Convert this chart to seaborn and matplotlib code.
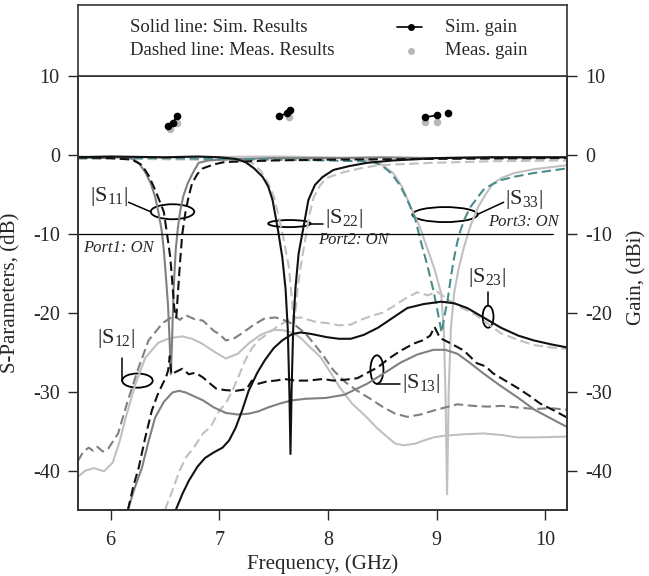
import numpy as np
import pandas as pd
import matplotlib
matplotlib.use('Agg')
import matplotlib.pyplot as plt
import seaborn as sns
from matplotlib.patches import Ellipse

sns.set_style('ticks')
plt.rcParams['font.family'] = ['Liberation Serif', 'DejaVu Serif']
plt.rcParams['mathtext.fontset'] = 'custom'
plt.rcParams['mathtext.rm'] = 'Liberation Serif'
plt.rcParams['mathtext.it'] = 'Liberation Serif:italic'
plt.rcParams['axes.unicode_minus'] = False

# ---- reflection coefficients (dB) ----
s11_sim_f = [5.7, 5.9, 6.1, 6.2, 6.26, 6.32, 6.37, 6.41, 6.44, 6.47, 6.49, 6.51, 6.53, 6.545, 6.555,
             6.565, 6.58, 6.6, 6.62, 6.64, 6.67, 6.71, 6.76, 6.81, 6.9, 7.0, 7.5, 8.0, 8.5, 9.0, 9.5, 10.2]
s11_sim_v = [-0.3, -0.4, -0.3, -0.5, -1.0, -2.2, -3.6, -5.3, -7.2, -9.5, -12, -15.5, -19.3, -24, -27.8,
             -24, -17, -12, -9.2, -7.2, -5.2, -3.6, -2.2, -1.0, -0.7, -0.6, -0.4, -0.4, -0.3, -0.4, -0.3, -0.3]

s11_meas_f = [5.7, 6.0, 6.2, 6.29, 6.35, 6.41, 6.45, 6.49, 6.52, 6.55, 6.57, 6.59, 6.605, 6.62, 6.64,
              6.66, 6.69, 6.72, 6.75, 6.8, 6.85, 6.95, 7.05, 7.5, 8.0, 9.0, 10.2]
s11_meas_v = [-0.3, -0.4, -0.6, -1.3, -2.6, -4.4, -5.8, -7.2, -10, -13, -16.5, -20, -20.6, -17.5, -13.5,
              -10, -7.2, -5.2, -3.6, -2.4, -1.7, -1.2, -0.9, -0.7, -0.6, -0.5, -0.4]

s22_sim_f = [5.7, 6.0, 6.5, 6.8, 7.0, 7.15, 7.24, 7.32, 7.4, 7.45, 7.49, 7.54, 7.58, 7.61, 7.63, 7.645,
             7.655, 7.665, 7.68, 7.7, 7.73, 7.77, 7.82, 7.88, 7.95, 8.05, 8.2, 8.36, 8.6, 9.0, 9.5, 10.2]
s22_sim_v = [-0.3, -0.2, -0.3, -0.2, -0.3, -0.5, -0.9, -1.7, -2.8, -4.0, -5.7, -9.5, -13, -17, -22, -30,
             -37.9, -30, -22, -17, -12.5, -9.5, -5.7, -3.8, -2.8, -1.9, -1.4, -1.0, -0.7, -0.4, -0.3, -0.3]

s22_meas_f = [5.7, 6.2, 6.8, 7.1, 7.3, 7.38, 7.45, 7.5, 7.54, 7.59, 7.64, 7.67, 7.685, 7.70, 7.72, 7.75,
              7.79, 7.83, 7.87, 7.93, 7.99, 8.14, 8.3, 8.46, 8.97, 9.5, 10.2]
s22_meas_v = [-0.5, -0.5, -0.6, -0.7, -1.0, -2.0, -3.6, -5.2, -7.4, -10.5, -14.2, -18.5, -21.8, -20, -17, -14,
              -10.8, -7.5, -5.3, -3.8, -2.9, -2.2, -1.7, -1.3, -1.0, -0.8, -0.7]

s33_sim_f = [5.7, 6.5, 7.5, 8.0, 8.3, 8.46, 8.6, 8.68, 8.76, 8.84, 8.91, 8.98, 9.04, 9.065, 9.08, 9.095,
             9.11, 9.13, 9.16, 9.2, 9.25, 9.31, 9.38, 9.45, 9.52, 9.6, 9.71, 9.9, 10.2]
s33_sim_v = [-0.2, -0.3, -0.2, -0.3, -0.5, -0.9, -2.3, -4.0, -6.6, -9.0, -11.7, -14.5, -17.5, -22, -30, -43,
             -30, -22, -17.5, -14.5, -11.7, -9, -6.6, -5.0, -3.6, -2.9, -2.3, -1.8, -1.3]

s33_meas_f = [5.7, 6.5, 7.0, 7.5, 8.0, 8.3, 8.42, 8.5, 8.58, 8.66, 8.73, 8.8, 8.85, 8.91, 8.97, 9.01, 9.045,
              9.07, 9.1, 9.13, 9.16, 9.19, 9.22, 9.26, 9.31, 9.37, 9.43, 9.5, 9.59, 9.7, 9.89, 10.2]
s33_meas_v = [-0.4, -0.4, -0.5, -0.6, -0.7, -0.8, -0.9, -1.4, -2.3, -3.8, -5.7, -8.0, -10.8, -13.8, -17.2, -20, -22.5,
              -20.5, -18.4, -15.5, -13, -11, -9.5, -8.0, -6.6, -5.5, -4.4, -3.8, -3.2, -2.8, -2.3, -1.7]

# ---- coupling (dB) ----
s12_sim_f = [5.68, 5.77, 5.85, 5.94, 6.02, 6.08, 6.14, 6.23, 6.32, 6.44, 6.55, 6.66, 6.75, 6.84, 6.95, 7.06,
             7.17, 7.27, 7.38, 7.49, 7.58, 7.67, 7.75, 7.83, 7.93, 8.02, 8.11, 8.22, 8.36, 8.45, 8.55, 8.62,
             8.7, 8.8, 8.88, 8.97, 9.06, 9.25, 9.43, 9.6, 9.74, 9.9, 10.2]
s12_sim_v = [-41, -40, -39.7, -40.1, -39, -36.5, -33.3, -29, -25.7, -23.8, -23.2, -23, -23.3, -23.9, -24.9, -25.8,
             -25.2, -23.9, -22.8, -22.2, -22.2, -22.5, -23.2, -24.3, -25.6, -27.5, -29.5, -31.5, -33.3, -34.6, -35.8, -36.6,
             -36.8, -36.6, -36.2, -35.8, -35.6, -35.4, -35.3, -35.5, -35.8, -35.8, -35.7]

s12_meas_f = [5.7, 5.75, 5.8, 5.84, 5.88, 5.93, 5.98, 6.07, 6.16, 6.26, 6.35, 6.48, 6.58, 6.64, 6.69, 6.77, 6.85,
              6.95, 7.0, 7.06, 7.13, 7.21, 7.32, 7.42, 7.52, 7.61, 7.7, 7.79, 7.87, 7.96, 8.05, 8.16, 8.27,
              8.4, 8.51, 8.62, 8.73, 8.85, 8.97, 9.08, 9.19, 9.33, 9.47, 9.6, 9.74, 9.9, 10.05, 10.2]
s12_meas_v = [-38.8, -37.6, -37.1, -37.5, -37.0, -37.6, -37.2, -35.3, -31.1, -26.9, -23.5, -21.3, -20.4, -20.9, -20.3, -20.8, -21,
              -22.3, -22.7, -23.5, -23.3, -22.6, -21.5, -20.7, -20.6, -21, -21.6, -22.6, -23.9, -25.5, -27.3, -28.8, -29.9,
              -31, -32, -32.8, -33.2, -32.9, -32.4, -32.0, -31.6, -31.8, -31.9, -31.8, -32, -32.2, -32.1, -32.3]

s13_sim_f = [6.16, 6.22, 6.29, 6.35, 6.41, 6.49, 6.57, 6.63, 6.69, 6.77, 6.85, 6.95, 7.06, 7.17, 7.27, 7.36,
             7.45, 7.56, 7.67, 7.8, 7.98, 8.15, 8.36, 8.5, 8.67, 8.82, 8.97, 9.08, 9.19, 9.3, 9.43, 9.58,
             9.74, 9.9, 10.05, 10.2]
s13_sim_v = [-45, -42.3, -39.6, -36.3, -33.3, -31.3, -30.1, -29.9, -30.1, -30.6, -31.1, -32, -32.7, -32.9, -32.8, -32.5,
             -32, -31.5, -31.1, -30.9, -30.8, -30.4, -29, -27.8, -26.3, -25.3, -24.7, -24.7, -25.2, -26.3, -27.7, -29.2,
             -30.7, -32.3, -33.4, -34.5]

s13_meas_f = [6.16, 6.21, 6.26, 6.32, 6.38, 6.43, 6.48, 6.51, 6.53, 6.545, 6.56, 6.6, 6.66, 6.72, 6.78, 6.85,
              6.9, 6.97, 7.05, 7.15, 7.25, 7.3, 7.36, 7.44, 7.52, 7.6, 7.7, 7.82, 7.95, 8.05, 8.15, 8.27,
              8.35, 8.46, 8.56, 8.67, 8.79, 8.87, 8.94, 8.98, 9.03, 9.13, 9.25, 9.37, 9.45, 9.52, 9.63,
              9.74, 9.85, 9.95, 10.08, 10.2]
s13_meas_v = [-45, -42, -39.6, -35.8, -32.4, -30.5, -29, -28.2, -27.3, -25.5, -27.8, -27.5, -27.1, -27.8, -27.6, -28.2,
              -28.8, -29.6, -29.8, -29.9, -29.7, -28.6, -29, -28.7, -28.6, -28.4, -28.6, -28.6, -28.4, -28.6, -28.5, -28.3,
              -27.7, -26.9, -25.8, -24.8, -23.9, -23.5, -22.9, -21.8, -23.2, -23.9, -24.8, -26.4, -26.8, -27.7, -28.6,
              -29.5, -30.5, -31.5, -32.4, -33.3]

s23_sim_f = [6.6, 6.66, 6.72, 6.8, 6.87, 6.95, 7.03, 7.09, 7.15, 7.21, 7.27, 7.35, 7.42, 7.5, 7.58, 7.67,
             7.75, 7.85, 7.99, 8.1, 8.21, 8.33, 8.46, 8.6, 8.73, 8.88, 9.04, 9.16, 9.28, 9.43, 9.59, 9.75,
             9.89, 10.05, 10.2]
s23_sim_v = [-45, -43, -41.3, -39.5, -38.4, -37.7, -37.1, -36.2, -34.6, -32.4, -29.9, -27.6, -26, -24.5, -23.5, -22.7,
             -22.5, -22.7, -23.1, -23.3, -23.3, -22.8, -21.9, -20.6, -19.4, -18.9, -18.6, -18.8, -19.4, -20.6, -21.9, -22.9,
             -23.5, -24, -24.4]

s23_meas_f = [6.5, 6.57, 6.63, 6.69, 6.77, 6.85, 6.92, 7.0, 7.06, 7.12, 7.18, 7.24, 7.3, 7.36, 7.44, 7.52,
              7.6, 7.67, 7.75, 7.82, 7.9, 7.99, 8.1, 8.21, 8.3, 8.4, 8.5, 8.6, 8.7, 8.82, 8.92, 9.0, 9.1,
              9.22, 9.35, 9.47, 9.59, 9.72, 9.89, 10.05, 10.2]
s23_meas_v = [-45, -42.5, -40.2, -38.4, -37, -35.3, -34.5, -32.4, -31.5, -29.9, -28, -26, -24.5, -23.5, -22.7, -21.9,
              -21.2, -20.7, -20.6, -20.9, -21.2, -21.3, -21.6, -21.5, -20.9, -20.4, -20, -19.2, -18.3, -17.4, -17.8, -17.3, -18.3,
              -19.3, -20.2, -21.4, -22.6, -23.3, -24.1, -24.4, -24.6]

# ---- gain (dBi) ----
gain_sim_f = [6.527, 6.573, 6.613, 7.548, 7.625, 7.655, 8.89, 9.0, 9.1]
gain_sim_v = [3.7, 4.1, 4.9, 4.9, 5.3, 5.7, 4.8, 5.0, 5.3]
gain_sim_grp = [1, 1, 1, 2, 2, 2, 3, 3, 4]
gain_meas_f = [6.55, 6.613, 7.64, 8.89, 9.0]
gain_meas_v = [3.3, 4.1, 4.8, 4.2, 4.15]

BLACK = '#111111'
MID = '#808080'
LIGHT = '#c0c0c0'
TEAL = '#4a8c8c'
DASH = (0, (4.5, 2.2))

curves = [
    (s12_sim_f, s12_sim_v, LIGHT, '-'),
    (s33_sim_f, s33_sim_v, LIGHT, '-'),
    (s22_meas_f, s22_meas_v, LIGHT, DASH),
    (s23_meas_f, s23_meas_v, LIGHT, DASH),
    (s12_meas_f, s12_meas_v, MID, DASH),
    (s13_sim_f, s13_sim_v, MID, '-'),
    (s11_sim_f, s11_sim_v, MID, '-'),
    (s33_meas_f, s33_meas_v, TEAL, DASH),
    (s13_meas_f, s13_meas_v, BLACK, DASH),
    (s11_meas_f, s11_meas_v, BLACK, DASH),
    (s23_sim_f, s23_sim_v, BLACK, '-'),
    (s22_sim_f, s22_sim_v, BLACK, '-'),
]

fig = plt.figure(figsize=(6.49, 5.76), dpi=100)
ax = fig.add_axes([0.120, 0.1146, 0.754, 0.7534])

for f, v, c, ls in curves:
    sns.lineplot(x=f, y=v, ax=ax, color=c, linestyle=ls, lw=1.5,
                 estimator=None, sort=False)

ax.plot([5.705, 10.07], [-10, -10], color='black', lw=0.9)

ax.set_xlim(5.7, 10.2)
ax.set_ylim(-45, 10)
ax.set_xticks([6, 7, 8, 9, 10])
ax.set_yticks([-40, -30, -20, -10, 0, 10])
ax.tick_params(direction='out', length=7, width=1, labelsize=14.5, pad=6)
ax.tick_params(axis='x', pad=8)
ax.set_xlabel('Frequency, (GHz)', fontsize=15, labelpad=3)
ax.set_ylabel('S-Parameters, (dB)', fontsize=15)
ax.yaxis.set_label_coords(-0.118, 0.5)

ax2 = ax.twinx()
ax2.set_ylim(-45, 10)
ax2.set_yticks([-40, -30, -20, -10, 0, 10])
ax2.tick_params(direction='out', length=7, width=1, labelsize=14.5, pad=6)
ax2.set_ylabel('Gain, (dBi)', fontsize=15)
ax2.yaxis.set_label_coords(1.123, 0.537)

gm = pd.DataFrame({'f': gain_meas_f, 'g': gain_meas_v})
gs = pd.DataFrame({'f': gain_sim_f, 'g': gain_sim_v, 'grp': gain_sim_grp})
sns.scatterplot(data=gm, x='f', y='g', ax=ax2, color='#b8b8b8', s=30, linewidth=0, zorder=3)
sns.lineplot(data=gs, x='f', y='g', units='grp', estimator=None, ax=ax2, color='black',
             marker='o', markersize=5.5, markeredgewidth=0, lw=1.2, zorder=4)
ax2.set_xlabel('')

for a in (ax, ax2):
    for sp in a.spines.values():
        sp.set_linewidth(1.2)
        sp.set_color('#333333')

# annotations
lab_kw = dict(fontsize=16, ha='left', va='center')
port_kw = dict(fontsize=12, style='italic', ha='left', va='center')
ell_kw = dict(fill=False, ec='black', lw=1.3)

ax.add_patch(Ellipse((6.57, -7.2), 0.40, 1.9, **ell_kw))
ax.plot([6.165, 6.37], [-6.0, -7.2], color='black', lw=1.1)
ax.text(5.815, -5.3, r'|S$_{11}$|', **lab_kw)
ax.text(5.75, -11.8, 'Port1: ON', **port_kw)

ax.add_patch(Ellipse((7.645, -8.7), 0.39, 0.9, **ell_kw))
ax.plot([7.84, 7.95], [-8.7, -8.7], color='black', lw=1.1)
ax.text(7.97, -8.1, r'|S$_{22}$|', **lab_kw)
ax.text(7.91, -10.8, 'Port2: ON', **port_kw)

ax.add_patch(Ellipse((9.076, -7.56), 0.60, 1.9, **ell_kw))
ax.plot([9.38, 9.615], [-7.5, -6.0], color='black', lw=1.1)
ax.text(9.63, -5.6, r'|S$_{33}$|', **lab_kw)
ax.text(9.47, -8.5, 'Port3: ON', **port_kw)

ax.add_patch(Ellipse((9.472, -20.5), 0.10, 2.8, **ell_kw))
ax.plot([9.472, 9.472], [-19.1, -17.4], color='black', lw=1.1)
ax.text(9.29, -15.5, r'|S$_{23}$|', **lab_kw)

ax.add_patch(Ellipse((6.248, -28.6), 0.28, 1.8, **ell_kw))
ax.plot([6.108, 6.108], [-25.8, -28.6], color='black', lw=1.1)
ax.text(5.88, -23.3, r'|S$_{12}$|', **lab_kw)

ax.add_patch(Ellipse((8.45, -27.2), 0.12, 3.6, **ell_kw))
ax.plot([8.45, 8.66], [-29.0, -29.0], color='black', lw=1.1)
ax.text(8.68, -29.0, r'|S$_{13}$|', **lab_kw)

# legend box on top
lg = fig.add_axes([0.120, 0.868, 0.754, 0.123])
lg.set_xlim(0, 1)
lg.set_ylim(0, 1)
lg.set_xticks([])
lg.set_yticks([])
for sp in lg.spines.values():
    sp.set_linewidth(1.2)
    sp.set_color('#333333')
lg.text(0.106, 0.69, 'Solid line: Sim. Results', fontsize=13.5, va='center')
lg.text(0.106, 0.36, 'Dashed line: Meas. Results', fontsize=13.5, va='center')
lg.plot([0.652, 0.703], [0.69, 0.69], color='black', lw=1.2)
lg.plot([0.68], [0.69], 'o', color='black', ms=5, mew=0)
lg.plot([0.68], [0.36], 'o', color='#b8b8b8', ms=5, mew=0)
lg.text(0.75, 0.69, 'Sim. gain', fontsize=13.5, va='center')
lg.text(0.75, 0.36, 'Meas. gain', fontsize=13.5, va='center')

fig.savefig('out.png', dpi=100)
